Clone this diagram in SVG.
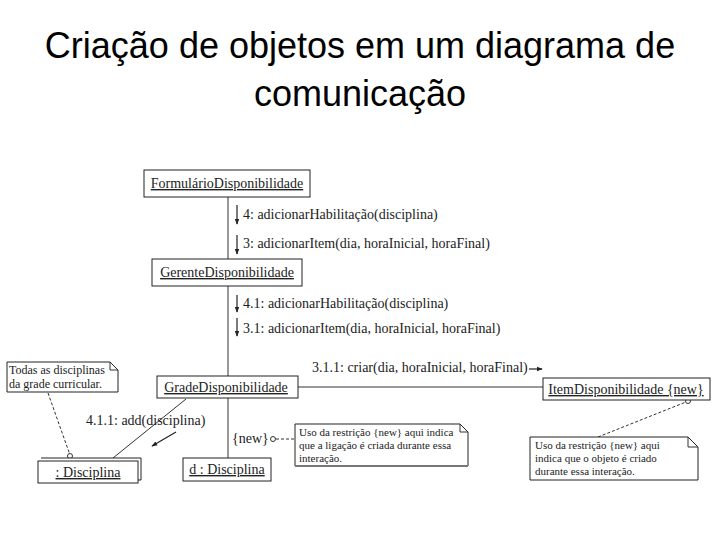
<svg xmlns="http://www.w3.org/2000/svg" width="720" height="540" viewBox="0 0 720 540">
<defs>
<marker id="ah" viewBox="0 0 8 8" refX="7" refY="4" markerWidth="6" markerHeight="6" orient="auto" markerUnits="userSpaceOnUse">
<path d="M0,1 L8,4 L0,7 Z" fill="#222"/>
</marker>
</defs>
<style>
.title{font-family:"Liberation Sans",Arial,sans-serif;font-size:36px;fill:#000;text-anchor:middle}
.t{font-family:"Liberation Serif","Times New Roman",serif;font-size:14px;fill:#222}
.n{font-family:"Liberation Serif","Times New Roman",serif;font-size:11px;fill:#222}
.u{text-decoration:underline}
.box{fill:#fff;stroke:#222;stroke-width:1}
.link{stroke:#333;stroke-width:1;fill:none}
.dash{stroke:#333;stroke-width:1;fill:none;stroke-dasharray:3,2}
.msg{stroke:#222;stroke-width:1.2;fill:none}
.circ{fill:#fff;stroke:#333;stroke-width:1}
</style>
<rect width="720" height="540" fill="#fff"/>
<text class="title" x="360" y="58">Criação de objetos em um diagrama de</text>
<text class="title" x="360" y="106">comunicação</text>

<g id="connectors">
<line class="link" x1="228" y1="197" x2="228" y2="259"/>
<line class="link" x1="228" y1="286" x2="228" y2="376"/>
<line class="link" x1="228" y1="398" x2="228" y2="458"/>
<line class="link" x1="298" y1="387" x2="543" y2="387" stroke="#888"/>
<line class="link" x1="186" y1="399" x2="113" y2="458"/>
<line class="dash" x1="48" y1="393" x2="70" y2="455"/>
<circle class="circ" cx="70" cy="456" r="2.5"/>
<line class="dash" x1="276" y1="439" x2="295" y2="439"/>
<circle class="circ" cx="273" cy="439" r="2.5"/>
<line class="dash" x1="598" y1="437" x2="686" y2="402"/>
<circle class="circ" cx="688" cy="401" r="2.5"/>
<line class="msg" x1="237" y1="205" x2="237" y2="224" marker-end="url(#ah)"/>
<text class="t" x="243" y="219">4: adicionarHabilitação(disciplina)</text>
<line class="msg" x1="237" y1="235" x2="237" y2="254" marker-end="url(#ah)"/>
<text class="t" x="243" y="248">3: adicionarItem(dia, horaInicial, horaFinal)</text>
<line class="msg" x1="237" y1="295" x2="237" y2="312" marker-end="url(#ah)"/>
<text class="t" x="243" y="308">4.1: adicionarHabilitação(disciplina)</text>
<line class="msg" x1="237" y1="318" x2="237" y2="336" marker-end="url(#ah)"/>
<text class="t" x="243" y="333">3.1: adicionarItem(dia, horaInicial, horaFinal)</text>
<text class="t" x="312" y="372">3.1.1: criar(dia, horaInicial, horaFinal)</text>
<line class="msg" x1="529" y1="369" x2="542" y2="369" marker-end="url(#ah)"/>
<text class="t" x="86" y="425">4.1.1: add(disciplina)</text>
<line class="msg" x1="176" y1="432" x2="152" y2="446" marker-end="url(#ah)"/>
<text class="t" x="232" y="443">{new}</text>
</g>

<g id="formulario">
<rect class="box" x="144" y="170" width="166" height="27"/>
<text class="t u" x="227" y="188" text-anchor="middle">FormulárioDisponibilidade</text>
</g>
<g id="gerente">
<rect class="box" x="152" y="259" width="150" height="27"/>
<text class="t u" x="227" y="277" text-anchor="middle">GerenteDisponibilidade</text>
</g>
<g id="grade">
<rect class="box" x="157" y="376" width="141" height="22"/>
<text class="t u" x="226" y="392" text-anchor="middle">GradeDisponibilidade</text>
</g>
<g id="item">
<rect class="box" x="543" y="378" width="167" height="22"/>
<text class="t u" x="626" y="394" text-anchor="middle">ItemDisponibilidade {new}</text>
</g>
<g id="disciplinas">
<path class="box" d="M41,458 H141 V480 H138"/>
<rect class="box" x="38" y="461" width="100" height="22"/>
<text class="t u" x="88" y="477" text-anchor="middle">: Disciplina</text>
</g>
<g id="d-disciplina">
<rect class="box" x="183" y="458" width="88" height="23"/>
<text class="t u" x="227" y="474" text-anchor="middle">d : Disciplina</text>
</g>
<g id="note-todas">
<path class="box" d="M7,362 H110 L118,370 V392 H7 Z"/>
<path class="link" d="M110,362 V370 H118"/>
<text class="n" x="9" y="374" style="font-size:12px">Todas as disciplinas</text>
<text class="n" x="9" y="388" style="font-size:12px">da grade curricular.</text>
</g>
<g id="note-ligacao">
<path class="box" d="M295,424 H460 L468,432 V466 H295 Z"/>
<path class="link" d="M460,424 V432 H468"/>
<line x1="295" y1="466" x2="468" y2="466" stroke="#777" stroke-width="2"/>
<text class="n" x="299" y="436">Uso da restrição {new} aqui indica</text>
<text class="n" x="299" y="449">que a ligação é criada durante essa</text>
<text class="n" x="299" y="462">interação.</text>
</g>
<g id="note-objeto">
<path class="box" d="M530,437 H688 L698,447 V480 H530 Z"/>
<path class="link" d="M688,437 V447 H698"/>
<text class="n" x="535" y="449">Uso da restrição {new} aqui</text>
<text class="n" x="535" y="462">indica que o objeto é criado</text>
<text class="n" x="535" y="475">durante essa interação.</text>
</g>
</svg>
